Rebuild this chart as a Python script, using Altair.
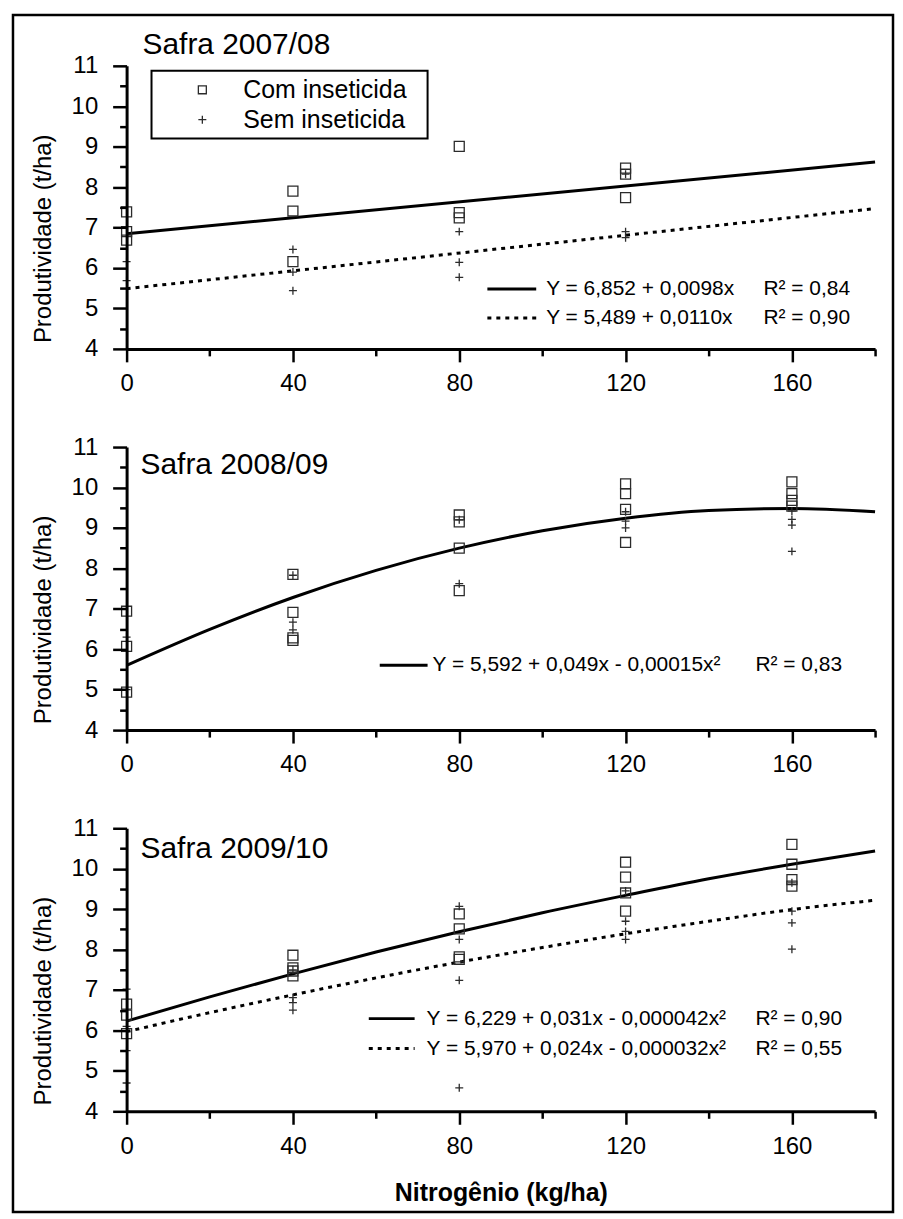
import altair as alt
import pandas as pd

# ---------------- data ----------------
X_TICKS = [0, 20, 40, 60, 80, 100, 120, 140, 160, 180]
Y_TICKS = [4, 4.5, 5, 5.5, 6, 6.5, 7, 7.5, 8, 8.5, 9, 9.5, 10, 10.5, 11]

PANEL_TITLES = ["Safra 2007/08", "Safra 2008/09", "Safra 2009/10"]
LEGEND_LABELS = ["Com inseticida", "Sem inseticida"]
Y_TITLE = "Produtividade (t/ha)"
X_TITLE = "Nitrogênio (kg/ha)"

# Safra 2007/08
P1_COM_N = [0, 0, 0, 40, 40, 40, 80, 80, 80, 120, 120, 120]
P1_COM_Y = [7.39, 6.90, 6.69, 7.90, 7.41, 6.16, 9.01, 7.37, 7.24, 8.47, 8.32, 7.74]
P1_SEM_N = [0, 0, 40, 40, 40, 80, 80, 80, 120, 120, 120]
P1_SEM_Y = [6.16, 5.69, 6.46, 5.90, 5.44, 6.90, 6.14, 5.77, 8.32, 6.90, 6.75]
P1_FIT_N = [0, 180]
P1_FIT_COM = [6.85, 8.62]
P1_FIT_SEM = [5.49, 7.47]
P1_EQ = ["Y = 6,852 + 0,0098x", "Y = 5,489 + 0,0110x"]
P1_R2 = ["R² = 0,84", "R² = 0,90"]

# Safra 2008/09
P2_COM_N = [0, 0, 0, 40, 40, 40, 40, 80, 80, 80, 80, 120, 120, 120, 120, 160, 160, 160, 160]
P2_COM_Y = [6.94, 6.07, 4.94, 7.85, 6.91, 6.28, 6.22, 9.32, 9.15, 8.50, 7.45,
            10.09, 9.85, 9.46, 8.64, 10.14, 9.85, 9.68, 9.54]
P2_SEM_N = [0, 0, 40, 40, 40, 80, 80, 120, 120, 120, 160, 160, 160, 160]
P2_SEM_Y = [6.30, 5.00, 7.83, 6.67, 6.48, 9.20, 7.62, 9.40, 9.17, 9.00, 9.42, 9.21, 9.07, 8.42]
P2_FIT_N = [0, 20, 40, 60, 80, 100, 120, 140, 160, 180]
P2_FIT_COM = [5.60, 6.49, 7.28, 7.95, 8.50, 8.93, 9.24, 9.43, 9.48, 9.40]
P2_EQ = ["Y = 5,592 + 0,049x - 0,00015x²"]
P2_R2 = ["R² = 0,83"]

# Safra 2009/10
P3_COM_N = [0, 0, 0, 40, 40, 40, 40, 80, 80, 80, 80, 120, 120, 120, 120, 160, 160, 160, 160]
P3_COM_Y = [6.65, 6.38, 5.92, 7.86, 7.55, 7.47, 7.35, 8.88, 8.51, 7.82, 7.76,
            10.16, 9.79, 9.40, 8.95, 10.60, 10.11, 9.73, 9.57]
P3_SEM_N = [0, 0, 0, 0, 40, 40, 40, 40, 80, 80, 80, 80, 120, 120, 120, 120, 160, 160, 160, 160]
P3_SEM_Y = [7.02, 6.10, 5.50, 4.70, 7.50, 6.81, 6.69, 6.50, 9.07, 8.25, 7.24, 4.58,
            9.45, 8.70, 8.45, 8.25, 9.65, 8.95, 8.66, 8.01]
P3_FIT_N = [0, 20, 40, 60, 80, 100, 120, 140, 160, 180]
P3_FIT_COM = [6.23, 6.83, 7.40, 7.94, 8.44, 8.91, 9.34, 9.75, 10.11, 10.44]
P3_FIT_SEM = [5.97, 6.44, 6.88, 7.30, 7.69, 8.05, 8.39, 8.70, 8.99, 9.22]
P3_EQ = ["Y = 6,229 + 0,031x - 0,000042x²", "Y = 5,970 + 0,024x - 0,000032x²"]
P3_R2 = ["R² = 0,90", "R² = 0,55"]

# ---------------- styling ----------------
FONT = "Arial, 'Liberation Sans', sans-serif"
INK = "#000000"
MARK_INK = "#2b2b2b"
W, H = 751, 284
SQUARE = "square"
PLUS = "M-1,0L1,0M0,-1L0,1"
DOTS = [4, 5]

XS = alt.Scale(domain=[0, 180], nice=False, zero=False)
YS = alt.Scale(domain=[4, 11], nice=False, zero=False)


def x_enc(show_title):
    ax = alt.Axis(
        values=X_TICKS,
        labelExpr="datum.value % 40 === 0 ? '' + datum.value : ''",
        tickSize={"condition": {"test": "datum.value % 40 !== 0", "value": 7}, "value": 13},
        labelPadding=10, labelFlush=False, labelOverlap=False, grid=False,
        titleFont=FONT, titleFontSize=25, titleFontWeight="bold", titleColor=INK,
        titleX=W / 2, titleY=81, titleBaseline="middle", titleAlign="center",
        zindex=1,
    )
    if show_title:
        return alt.X("N:Q", scale=XS, axis=ax, title=X_TITLE)
    return alt.X("N:Q", scale=XS, axis=ax, title=None)


def y_enc():
    ax = alt.Axis(
        values=Y_TICKS,
        labelExpr="datum.value % 1 === 0 ? '' + datum.value : ''",
        tickSize={"condition": {"test": "datum.value % 1 !== 0", "value": 7}, "value": 14},
        labelPadding=15, labelOverlap=False, grid=False,
        titleFont=FONT, titleFontSize=24, titleFontWeight="normal", titleColor=INK,
        titleAngle=-90, titleX=-83, titleY=173, titleAlign="center", titleBaseline="middle",
        zindex=1,
    )
    return alt.Y("Y:Q", scale=YS, axis=ax, title=Y_TITLE)


def points(ns, ys, shape, size, show_title):
    df = pd.DataFrame({"N": ns, "Y": ys})
    return alt.Chart(df).mark_point(
        shape=shape, filled=False, size=size, strokeWidth=1.3, color=MARK_INK, opacity=1
    ).encode(x=x_enc(show_title), y=y_enc())


def fit(ns, ys, dashed, show_title):
    df = pd.DataFrame({"N": ns, "Y": ys})
    kw = dict(color=INK, strokeWidth=3, interpolate="monotone")
    if dashed:
        kw["strokeDash"] = DOTS
    return alt.Chart(df).mark_line(**kw).encode(x=x_enc(show_title), y=y_enc())


def text(label, x, y, size=21, align="left", weight="normal"):
    df = pd.DataFrame({"t": [label]})
    return alt.Chart(df).mark_text(
        font=FONT, fontSize=size, align=align, baseline="middle", color=INK, fontWeight=weight
    ).encode(text="t:N", x=alt.value(x), y=alt.value(y))


def sample(x1, x2, y, dashed):
    df = pd.DataFrame({"s": [0]})
    kw = dict(color=INK, strokeWidth=3)
    if dashed:
        kw["strokeDash"] = DOTS
    return alt.Chart(df).mark_rule(**kw).encode(x=alt.value(x1), x2=alt.value(x2), y=alt.value(y))


def symbol(shape, size, x, y):
    df = pd.DataFrame({"s": [0]})
    return alt.Chart(df).mark_point(
        shape=shape, filled=False, size=size, strokeWidth=1.3, color=MARK_INK, opacity=1
    ).encode(x=alt.value(x), y=alt.value(y))


def box(x1, x2, y1, y2, width):
    df = pd.DataFrame({"s": [0]})
    return alt.Chart(df).mark_rect(
        fillOpacity=0, stroke=INK, strokeWidth=width
    ).encode(x=alt.value(x1), x2=alt.value(x2), y=alt.value(y1), y2=alt.value(y2))


# ---------------- panel 1 ----------------
p1 = alt.layer(
    fit(P1_FIT_N, P1_FIT_COM, False, False),
    fit(P1_FIT_N, P1_FIT_SEM, True, False),
    points(P1_COM_N, P1_COM_Y, SQUARE, 100, False),
    points(P1_SEM_N, P1_SEM_Y, PLUS, 64, False),
    text(PANEL_TITLES[0], 16, -21, size=30),
    box(25, 302, 5, 73, 2),
    symbol(SQUARE, 64, 76, 24),
    symbol(PLUS, 64, 76, 54),
    text(LEGEND_LABELS[0], 117, 24, size=25),
    text(LEGEND_LABELS[1], 117, 54, size=25),
    sample(362, 411, 224, False),
    sample(362, 411, 253, True),
    text(P1_EQ[0], 421, 224),
    text(P1_EQ[1], 421, 253),
    text(P1_R2[0], 639, 224),
    text(P1_R2[1], 639, 253),
).properties(width=W, height=H)

# ---------------- panel 2 ----------------
p2 = alt.layer(
    fit(P2_FIT_N, P2_FIT_COM, False, False),
    points(P2_COM_N, P2_COM_Y, SQUARE, 100, False),
    points(P2_SEM_N, P2_SEM_Y, PLUS, 64, False),
    text(PANEL_TITLES[1], 14, 18, size=30),
    sample(254, 302, 219, False),
    text(P2_EQ[0], 307, 219),
    text(P2_R2[0], 631, 219),
).properties(width=W, height=H)

# ---------------- panel 3 ----------------
p3 = alt.layer(
    fit(P3_FIT_N, P3_FIT_COM, False, True),
    fit(P3_FIT_N, P3_FIT_SEM, True, True),
    points(P3_COM_N, P3_COM_Y, SQUARE, 100, True),
    points(P3_SEM_N, P3_SEM_Y, PLUS, 64, True),
    text(PANEL_TITLES[2], 14, 21, size=30),
    sample(243, 289, 191, False),
    sample(243, 289, 221, True),
    text(P3_EQ[0], 301, 191),
    text(P3_EQ[1], 301, 221),
    text(P3_R2[0], 631, 191),
    text(P3_R2[1], 631, 221),
    box(-114, 769, -816, 385, 2.5),
).properties(width=W, height=H)

chart = alt.vconcat(p1, p2, p3, spacing=98.5, bounds="flush").properties(
    padding={"left": 3, "top": 3, "right": 0, "bottom": 0},
    background="white",
).configure_view(stroke=None).configure_axis(
    domainColor=INK, domainWidth=3, tickColor=INK, tickWidth=2.5,
    labelFont=FONT, labelFontSize=24, labelColor=INK,
)

chart.save("out.html", embed_options={"renderer": "svg", "actions": False})
